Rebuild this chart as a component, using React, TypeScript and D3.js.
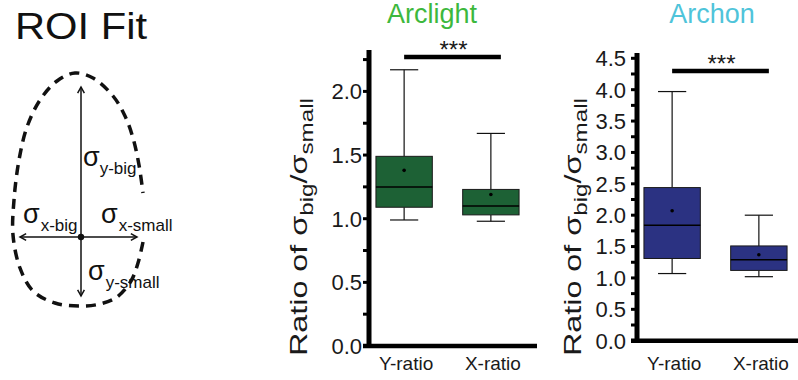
import React from "react";
import * as d3 from "d3";

const FONT = "'Liberation Sans', Arial, Helvetica, sans-serif";

const categories = ["Y-ratio", "X-ratio"];

// box stats per category: whisker low, q1, median, q3, whisker high, mean
const arclightLow = [0.99, 0.98];
const arclightQ1 = [1.09, 1.03];
const arclightMedian = [1.25, 1.1];
const arclightQ3 = [1.49, 1.23];
const arclightHigh = [2.17, 1.67];
const arclightMean = [1.38, 1.19];

const archonLow = [1.07, 1.02];
const archonQ1 = [1.31, 1.12];
const archonMedian = [1.84, 1.29];
const archonQ3 = [2.44, 1.51];
const archonHigh = [3.97, 2.0];
const archonMean = [2.07, 1.37];

const arclightTicks = [0, 0.5, 1.0, 1.5, 2.0];
const archonTicks = [0, 0.5, 1.0, 1.5, 2.0, 2.5, 3.0, 3.5, 4.0, 4.5];

// outline of the ROI (open at the right side)
const eggOutline: [number, number][] = [
  [143, 242], [138, 263], [131, 281], [117, 297], [100, 304], [80, 306],
  [55, 303], [33, 291], [20, 268], [13, 235], [14, 200], [19, 160],
  [27, 127], [40, 100], [57, 81], [75, 73], [93, 78], [113, 96],
  [125, 116], [133, 138], [139, 165], [143, 193],
];

type PanelProps = {
  title: string;
  titleColor: string;
  titleX: number;
  fill: string;
  axisX: number;
  axisTop: number;
  xAxisEnd: number;
  yMax: number;
  yRange: [number, number];
  ticks: number[];
  labelGap: number;
  labelX: number;
  low: number[];
  q1: number[];
  median: number[];
  q3: number[];
  high: number[];
  mean: number[];
  sigY: number;
};

const Panel = (p: PanelProps) => {
  const y = d3.scaleLinear().domain([0, p.yMax]).range(p.yRange);
  const x = d3
    .scaleBand()
    .domain(categories)
    .range([p.axisX, p.axisX + 157])
    .paddingInner(0.35)
    .paddingOuter(0.08);
  const bw = x.bandwidth();
  const minor = d3.range(0, p.yMax + 0.001, 0.25);
  const y0 = y(0);
  const c0 = (x(categories[0]) || 0) + bw / 2;
  const c1 = (x(categories[1]) || 0) + bw / 2;

  return (
    <g fontFamily={FONT}>
      <text x={p.titleX} y={23} textAnchor="middle" fontSize={27} fill={p.titleColor}>
        {p.title}
      </text>
      {/* axes */}
      <line x1={p.axisX} x2={p.axisX} y1={p.axisTop} y2={y0 + 2} stroke="#000" strokeWidth={5} />
      <line x1={p.axisX - 6} x2={p.xAxisEnd} y1={y0} y2={y0} stroke="#000" strokeWidth={4.5} />
      {minor.map((t) => (
        <line key={"m" + t} x1={p.axisX - 6} x2={p.axisX} y1={y(t)} y2={y(t)} stroke="#000" strokeWidth={3} />
      ))}
      {p.ticks.map((t) => (
        <text
          key={"t" + t}
          x={p.axisX - p.labelGap}
          y={y(t)}
          dy="0.36em"
          textAnchor="end"
          fontSize={22}
          fill="#1a1a1a"
        >
          {d3.format(".1f")(t)}
        </text>
      ))}
      {categories.map((c) => (
        <text key={c} x={(x(c) || 0) + bw / 2 + 2} y={370} textAnchor="middle" fontSize={19} fill="#1a1a1a">
          {c}
        </text>
      ))}
      <text
        transform={`translate(${p.labelX},227) rotate(-90)`}
        textAnchor="middle"
        fontSize={24}
        fill="#1a1a1a"
        textLength={258}
        lengthAdjust="spacingAndGlyphs"
      >
        Ratio of σ
        <tspan fontSize={18} dy={6}>big</tspan>
        <tspan dy={-6}>/σ</tspan>
        <tspan fontSize={18} dy={6}>small</tspan>
      </text>
      {/* boxes */}
      {categories.map((c, i) => {
        const bx = x(c) || 0;
        const cx = bx + bw / 2;
        return (
          <g key={"b" + c}>
            <line x1={cx} x2={cx} y1={y(p.high[i])} y2={y(p.q3[i])} stroke="#111" strokeWidth={1.2} />
            <line x1={cx} x2={cx} y1={y(p.q1[i])} y2={y(p.low[i])} stroke="#111" strokeWidth={1.2} />
            <line x1={cx - bw / 4} x2={cx + bw / 4} y1={y(p.high[i])} y2={y(p.high[i])} stroke="#111" strokeWidth={1.2} />
            <line x1={cx - bw / 4} x2={cx + bw / 4} y1={y(p.low[i])} y2={y(p.low[i])} stroke="#111" strokeWidth={1.2} />
            <rect
              x={bx}
              y={y(p.q3[i])}
              width={bw}
              height={y(p.q1[i]) - y(p.q3[i])}
              fill={p.fill}
              stroke="#1a1a1a"
              strokeWidth={1}
            />
            <line x1={bx} x2={bx + bw} y1={y(p.median[i])} y2={y(p.median[i])} stroke="#000" strokeWidth={1.5} />
            <circle cx={cx} cy={y(p.mean[i])} r={1.8} fill="#000" />
          </g>
        );
      })}
      {/* significance */}
      <line x1={c0} x2={c1 + 10} y1={p.sigY} y2={p.sigY} stroke="#000" strokeWidth={4.5} />
      <text x={(c0 + c1 + 12) / 2} y={p.sigY + 1} textAnchor="middle" fontSize={24} fill="#1a1a1a">
        ***
      </text>
    </g>
  );
};

const Sigma = ({ x, y, sub, dx }: { x: number; y: number; sub: string; dx: number }) => (
  <text x={x} y={y} fontFamily={FONT} fontSize={27} fill="#111">
    σ
    <tspan fontSize={17} dx={dx} dy={8}>
      {sub}
    </tspan>
  </text>
);

const Arrow = ({ x1, y1, x2, y2 }: { x1: number; y1: number; x2: number; y2: number }) => {
  const a = Math.atan2(y2 - y1, x2 - x1);
  const l = 7;
  const w = 0.5;
  const p1 = [x2 - l * Math.cos(a - w), y2 - l * Math.sin(a - w)];
  const p2 = [x2 - l * Math.cos(a + w), y2 - l * Math.sin(a + w)];
  return (
    <g stroke="#111" strokeWidth={1.5} fill="none">
      <line x1={x1} y1={y1} x2={x2} y2={y2} />
      <path d={`M${p1[0]},${p1[1]}L${x2},${y2}L${p2[0]},${p2[1]}`} />
    </g>
  );
};

const RoiFit = () => {
  const line = d3.line().curve(d3.curveCatmullRom.alpha(0.5));
  const cx = 81;
  const cy = 237;
  return (
    <g>
      <text x={15} y={39} fontFamily={FONT} fontSize={37} fill="#111" textLength={132} lengthAdjust="spacingAndGlyphs">
        ROI Fit
      </text>
      <path d={line(eggOutline) || ""} fill="none" stroke="#111" strokeWidth={3.5} strokeDasharray="10 7" />
      <Arrow x1={cx} y1={cy} x2={cx} y2={87} />
      <Arrow x1={cx} y1={cy} x2={cx} y2={296} />
      <Arrow x1={cx} y1={cy} x2={20} y2={cy} />
      <Arrow x1={cx} y1={cy} x2={137} y2={cy} />
      <circle cx={cx} cy={cy} r={3.2} fill="#111" />
      <Sigma x={83} y={166} sub="y-big" dx={0} />
      <Sigma x={23} y={223} sub="x-big" dx={1} />
      <Sigma x={101} y={223} sub="x-small" dx={1} />
      <Sigma x={88} y={280} sub="y-small" dx={1} />
    </g>
  );
};

export default function App() {
  return (
    <svg width={798} height={380} style={{ position: "absolute", left: 0, top: 0, background: "#fff" }}>
      <rect width={798} height={380} fill="#fff" />
      <RoiFit />
      <Panel
        title="Arclight"
        titleColor="#3db83d"
        titleX={432}
        fill="#1d6135"
        axisX={369}
        axisTop={50}
        xAxisEnd={537}
        yMax={2.33}
        yRange={[346, 49.4]}
        ticks={arclightTicks}
        labelGap={7}
        labelX={307}
        low={arclightLow}
        q1={arclightQ1}
        median={arclightMedian}
        q3={arclightQ3}
        high={arclightHigh}
        mean={arclightMean}
        sigY={57}
      />
      <Panel
        title="Archon"
        titleColor="#4fc4da"
        titleX={712}
        fill="#2b3282"
        axisX={637}
        axisTop={53}
        xAxisEnd={798}
        yMax={4.5}
        yRange={[340.7, 58.3]}
        ticks={archonTicks}
        labelGap={11}
        labelX={581}
        low={archonLow}
        q1={archonQ1}
        median={archonMedian}
        q3={archonQ3}
        high={archonHigh}
        mean={archonMean}
        sigY={71}
      />
    </svg>
  );
}
